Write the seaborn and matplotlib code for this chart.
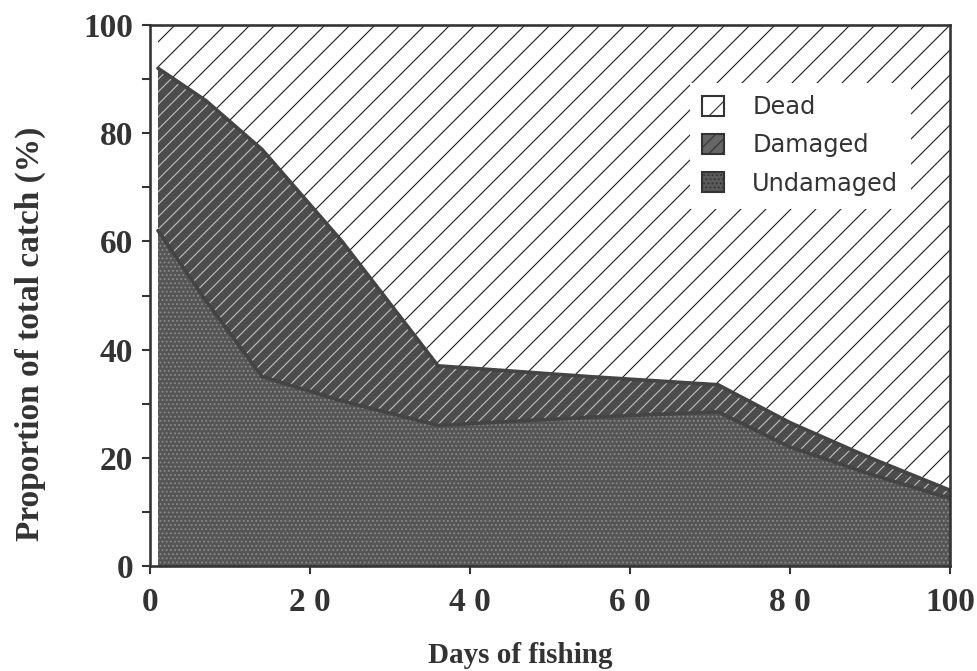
import matplotlib
matplotlib.use("Agg")
import numpy as np
import pandas as pd
import seaborn as sns
import matplotlib.pyplot as plt
from matplotlib.patches import Patch
from matplotlib.ticker import MultipleLocator

# values (percent of total catch)
days = [1, 7, 14, 24, 36, 55, 71, 80, 90, 100]
undamaged = [62, 49, 35, 30.5, 26, 27.5, 28.5, 22, 17, 12.5]
damaged = [30, 37, 42, 29.5, 11, 7.5, 5, 4.5, 3, 1.5]
dead = [8, 14, 23, 40, 63, 65, 66.5, 73.5, 80, 86]

x_ticks = [0, 20, 40, 60, 80, 100]
y_ticks = [0, 20, 40, 60, 80, 100]

df = pd.DataFrame({"days": days, "Undamaged": undamaged,
                   "Damaged": damaged, "Dead": dead})
df["dmg_top"] = df["Undamaged"] + df["Damaged"]

sns.set_theme(style="ticks")
plt.rcParams["hatch.linewidth"] = 1.1

fig = plt.figure(figsize=(977 / 75, 671 / 75), dpi=75)
ax = fig.add_axes([150 / 977, 105 / 671, 800 / 977, 541 / 671])

# filled layers
ax.fill_between(df["days"], 0, df["Undamaged"], facecolor="#555555",
                edgecolor="#8a8a8a", hatch="...", linewidth=0, zorder=1)
ax.fill_between(df["days"], df["Undamaged"], df["dmg_top"], facecolor="#4c4c4c",
                edgecolor="#bdbdbd", hatch="//", linewidth=0, zorder=1)
ax.fill_between(df["days"], df["dmg_top"], 100, facecolor="white",
                edgecolor="#222222", hatch="/", linewidth=0, zorder=1)

# boundary lines
sns.lineplot(data=df, x="days", y="Undamaged", color="#444444", linewidth=3.5,
             ax=ax, zorder=2)
sns.lineplot(data=df, x="days", y="dmg_top", color="#444444", linewidth=3.5,
             ax=ax, zorder=2)

ax.set_xlim(0, 100)
ax.set_ylim(0, 100)
ax.set_xticks(x_ticks)
ax.set_yticks(y_ticks)
ax.yaxis.set_minor_locator(MultipleLocator(10))
ax.set_xticklabels([" ".join(str(t)) if t < 100 else str(t) for t in x_ticks])
ax.tick_params(axis="both", which="major", length=8, width=2, color="#333333",
               labelsize=32, pad=8)
ax.tick_params(axis="x", which="major", pad=12)
ax.tick_params(axis="y", which="minor", length=8, width=2, color="#333333")
for lab in ax.get_xticklabels() + ax.get_yticklabels():
    lab.set_fontfamily("Liberation Serif")
    lab.set_fontweight("bold")
    lab.set_color("#333333")
for sp in ax.spines.values():
    sp.set_linewidth(2.5)
    sp.set_color("#333333")

ax.set_xlabel("Days of fishing", fontsize=28, fontweight="bold",
              family="Liberation Serif", color="#333333")
ax.set_ylabel("Proportion of total catch (%)", fontsize=32, fontweight="bold",
              family="Liberation Serif", color="#333333")
ax.xaxis.set_label_coords(0.4625, -0.14)
ax.yaxis.set_label_coords(-0.13, 0.43)

handles = [
    Patch(facecolor="white", edgecolor="#333333", hatch="/", linewidth=2, label="Dead"),
    Patch(facecolor="#666666", edgecolor="#333333", hatch="//", linewidth=2, label="Damaged"),
    Patch(facecolor="#5a5a5a", edgecolor="#333333", hatch="...", linewidth=2, label="Undamaged"),
]
leg = ax.legend(handles=handles, loc="upper left", bbox_to_anchor=(0.66, 0.915),
                frameon=True, fancybox=False, framealpha=1, edgecolor="white",
                prop={"family": "DejaVu Sans", "size": 23}, handlelength=0.9,
                handleheight=0.9, handletextpad=1.2, labelspacing=0.6,
                borderpad=0.5)
for t in leg.get_texts():
    t.set_color("#333333")

fig.savefig("out.png", dpi=75, facecolor="white")
